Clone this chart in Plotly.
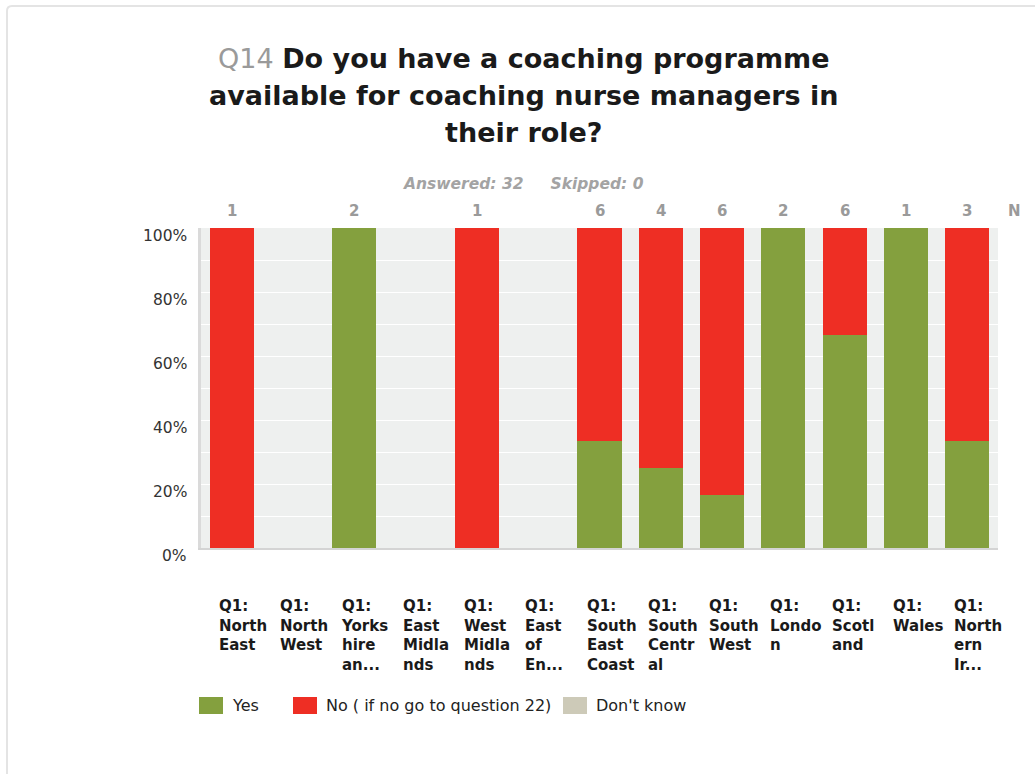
import plotly.graph_objects as go

# Survey responses per region (counts)
regions = [
    "Q1:<br>North<br>East", "Q1:<br>North<br>West", "Q1:<br>Yorks<br>hire<br>an...",
    "Q1:<br>East<br>Midla<br>nds", "Q1:<br>West<br>Midla<br>nds", "Q1:<br>East<br>of<br>En...",
    "Q1:<br>South<br>East<br>Coast", "Q1:<br>South<br>Centr<br>al", "Q1:<br>South<br>West",
    "Q1:<br>Londo<br>n", "Q1:<br>Scotl<br>and", "Q1:<br>Wales", "Q1:<br>North<br>ern<br>Ir...",
]
yes_counts = [0, 0, 2, 0, 0, 0, 2, 1, 1, 2, 4, 1, 1]
no_counts = [1, 0, 0, 0, 1, 0, 4, 3, 5, 0, 2, 0, 2]
dont_know_counts = [0] * 13
y_ticks = [0, 20, 40, 60, 80, 100]
answered, skipped = 32, 0

GREEN = "#84a03e"
RED = "#ee2e24"
GREY = "#cdcab8"

n_counts = [a + b + c for a, b, c in zip(yes_counts, no_counts, dont_know_counts)]


def pct(vals):
    return [v / n * 100 if n else 0 for v, n in zip(vals, n_counts)]


xs = list(range(len(regions)))

W, H = 1035, 774
ML, MR, MT, MB = 201, 37, 228, 226
PW, PH = W - ML - MR, H - MT - MB


def px(x):
    return (x - ML) / PW


def py(y):
    return (H - MB - y) / PH


fig = go.Figure()
for name, vals, col in [
    ("Yes", yes_counts, GREEN),
    ("No ( if no go to question 22)", no_counts, RED),
    ("Don't know", dont_know_counts, GREY),
]:
    fig.add_trace(go.Bar(x=xs, y=pct(vals), name=name, marker_color=col,
                         marker_line_width=0, width=0.72, showlegend=False,
                         hoverinfo="skip"))

ann = []
BODY = "DejaVu Sans, Verdana, sans-serif"

# Title
title_lines = [
    "<span style='color:#9a9a9a'>Q14</span> <b>Do you have a coaching programme</b>",
    "<b>available for coaching nurse managers in</b>",
    "<b>their role?</b>",
]
for i, t in enumerate(title_lines):
    ann.append(dict(x=px(524), y=py(58 + 37 * i), xref="paper", yref="paper",
                    text=t, showarrow=False, xanchor="center", yanchor="middle",
                    font=dict(family=BODY, size=27, color="#1a1a1a")))

ann.append(dict(x=px(523), y=py(184), xref="paper", yref="paper",
                text="<b><i>Answered: %d&nbsp;&nbsp;&nbsp;&nbsp;&nbsp;Skipped: %d</i></b>" % (answered, skipped),
                showarrow=False, xanchor="center", yanchor="middle",
                font=dict(family=BODY, size=15.5, color="#a3a3a3")))

# Response counts above each column
for x, n in zip(xs, n_counts):
    if n:
        ann.append(dict(x=x, y=py(211), xref="x", yref="paper", text="<b>%d</b>" % n,
                        showarrow=False, xanchor="center", yanchor="middle",
                        font=dict(family=BODY, size=15, color="#9a9a9a")))
ann.append(dict(x=px(1014), y=py(211), xref="paper", yref="paper", text="<b>N</b>",
                showarrow=False, xanchor="center", yanchor="middle",
                font=dict(family=BODY, size=15, color="#9a9a9a")))

# Y tick labels (sitting slightly below their gridlines)
for v in y_ticks:
    ann.append(dict(x=px(189), y=v, xref="paper", yref="y", text="%d%%" % v,
                    showarrow=False, xanchor="right", yanchor="middle", yshift=-8,
                    font=dict(family=BODY, size=15.5, color="#333333")))

# Category labels, left aligned under each column
for x, lab in zip(xs, regions):
    ann.append(dict(x=x, y=py(595), xref="x", yref="paper", text="<b>%s</b>" % lab,
                    showarrow=False, xanchor="left", yanchor="top", xshift=-15,
                    align="left",
                    font=dict(family=BODY, size=15, color="#1a1a1a")))

# Legend
shapes = []
legend = [("Yes", GREEN, 199), ("No ( if no go to question 22)", RED, 293), ("Don't know", GREY, 563)]
for name, col, x0 in legend:
    shapes.append(dict(type="rect", xref="paper", yref="paper",
                       x0=px(x0), x1=px(x0 + 24), y0=py(714), y1=py(697),
                       fillcolor=col, line_width=0))
    ann.append(dict(x=px(x0 + 31), y=py(705), xref="paper", yref="paper", text=name,
                    showarrow=False, xanchor="left", yanchor="middle",
                    font=dict(family=BODY, size=16, color="#222222")))

# Card outline
shapes.append(dict(type="path", xref="paper", yref="paper",
                   path="M %f %f L %f %f Q %f %f %f %f L %f %f" % (
                       px(7), py(790), px(7), py(11), px(7), py(6), px(12), py(6), px(1040), py(6)),
                   line=dict(color="#e4e4e4", width=2), layer="below"))

fig.update_layout(
    width=W, height=H,
    margin=dict(l=ML, r=MR, t=MT, b=MB, autoexpand=False),
    barmode="stack",
    paper_bgcolor="white",
    plot_bgcolor="#eef0ef",
    annotations=ann,
    shapes=shapes,
    xaxis=dict(range=[-0.5, len(regions) - 0.5], showticklabels=False, showgrid=False,
               zeroline=False, showline=True, linecolor="#d4d4d4", linewidth=2,
               fixedrange=True),
    yaxis=dict(range=[0, 100], dtick=10, showticklabels=False, showgrid=True,
               gridcolor="white", gridwidth=1, zeroline=False, showline=True,
               linecolor="#dadada", linewidth=3, fixedrange=True),
)

fig.write_html("out.html", config={"displayModeBar": False})
